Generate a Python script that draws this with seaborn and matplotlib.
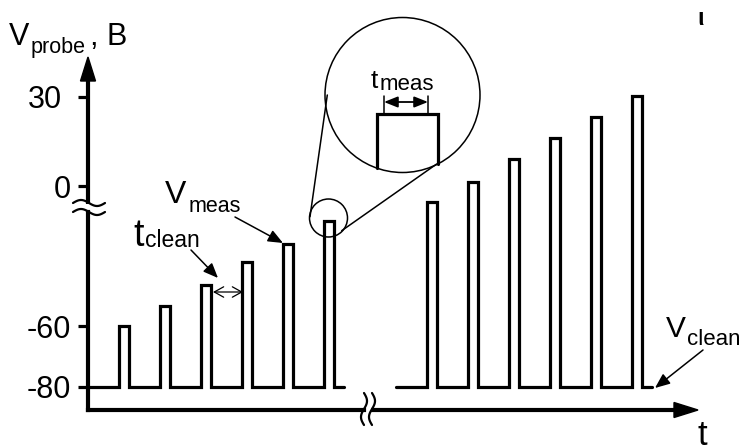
import numpy as np
import pandas as pd
import matplotlib
matplotlib.use("Agg")
import matplotlib.pyplot as plt
import seaborn as sns
from matplotlib.patches import Circle, Polygon
from matplotlib.transforms import ScaledTranslation

# ---------------- data ----------------
V_clean = -80.0                                   # cleaning level, V
V_meas_left = [-60, -53.4, -46.6, -39, -33, -25.6]  # measuring pulse levels (first train), V
V_meas_right = [-5.4, 1.3, 9.1, 16.2, 23.2, 30.3]   # measuring pulse levels (second train), V
t_meas = 10.5      # pulse duration (a.u.)
t_clean = 30.5     # cleaning interval (a.u.)
t_tail = 10        # tail after last pulse
train_start = [88, 396]   # start time of each train (a.u.)
y_ticks = [-80, -60, 0, 30]
y_ticklabels = ["-80", "-60", "0", "30"]

# ---------------- broken y scale ----------------
def fwd(v):
    v = np.asarray(v, dtype=float)
    lo = 3.05 * (v + 80)
    hi = 201 + 2.97 * v
    mid = 179.95 + (v + 21) * (0.25 / 14)
    return np.where(v <= -21, lo, np.where(v >= -7, hi, mid))

def inv(u):
    u = np.asarray(u, dtype=float)
    lo = u / 3.05 - 80
    hi = (u - 201) / 2.97
    mid = -21 + (u - 179.95) * (14 / 0.25)
    return np.where(u <= 179.95, lo, np.where(u >= 180.2, hi, mid))

# ---------------- waveform ----------------
rows = []
for seg, (t0, levels) in enumerate(zip(train_start, [V_meas_left, V_meas_right])):
    t = t0
    rows.append((seg, t, V_clean))
    for lv in levels:
        t += t_clean
        rows += [(seg, t, V_clean), (seg, t, lv), (seg, t + t_meas, lv), (seg, t + t_meas, V_clean)]
        t += t_meas
    rows.append((seg, t + t_tail, V_clean))
df = pd.DataFrame(rows, columns=["train", "t", "V"])

sns.set_theme(style="white")
plt.rcParams["font.family"] = ["Liberation Sans", "DejaVu Sans"]

W, H = 746, 447
fig = plt.figure(figsize=(W / 100, H / 100), dpi=100)
fig.patch.set_facecolor("white")

ax = fig.add_axes([0, 0, 1, 1])
ax.set_yscale("function", functions=(fwd, inv))
ax.set_xlim(0, W)
ax.set_ylim(float(inv(-60)), float(inv(387)))
sns.lineplot(data=df, x="t", y="V", units="train", estimator=None, sort=False,
             color="black", lw=2.3, ax=ax, solid_joinstyle="miter", legend=False)
for s in ax.spines.values():
    s.set_visible(False)
ax.spines["left"].set_position(("data", 88))
ax.set_xticks([])
ax.set_yticks(y_ticks)
ax.set_yticklabels(y_ticklabels)
ax.yaxis.set_minor_locator(matplotlib.ticker.NullLocator())
ax.tick_params(axis="y", direction="out", length=7.5, width=2.3, labelsize=22,
               pad=4.5, color="black", labelcolor="black", left=True)
for lab in ax.get_yticklabels():
    if lab.get_text() == "30":
        lab.set_transform(lab.get_transform() + ScaledTranslation(-0.09, 0, fig.dpi_scale_trans))
ax.set_xlabel("")
ax.set_ylabel("")
ax.patch.set_visible(False)

# ---------------- overlay (pixel coords) ----------------
ov = fig.add_axes([0, 0, 1, 1], zorder=5)
ov.set_xlim(0, W)
ov.set_ylim(H, 0)
ov.axis("off")
ov.patch.set_visible(False)

K = "black"
alw = 3.0
# y axis with break
ov.plot([88, 88], [410, 211.5], color=K, lw=alw, solid_capstyle="projecting")
ov.plot([88, 88], [204, 76], color=K, lw=alw, solid_capstyle="butt")
ov.add_patch(Polygon([[88, 57], [80.5, 81], [95.5, 81]], closed=True, color=K))
# x axis with break
ov.plot([88, 364], [410, 410], color=K, lw=alw, solid_capstyle="projecting")
ov.plot([371, 678], [410, 410], color=K, lw=alw, solid_capstyle="butt")
ov.add_patch(Polygon([[698, 410], [674, 402.5], [674, 417.5]], closed=True, color=K))

tt = np.linspace(0, 1, 60)
for yc in (203, 212):
    ov.plot(73 + 32 * tt, yc - 3 * np.sin(2 * np.pi * tt), color=K, lw=1.6)
for xc in (364, 372):
    ov.plot(xc + 3 * np.sin(2 * np.pi * tt), 393 + 32 * tt, color=K, lw=1.6)

# magnifier
ov.add_patch(Circle((328.5, 218), 19, fill=False, ec=K, lw=1.1))
ov.add_patch(Circle((402.5, 95), 77.5, fill=False, ec=K, lw=1.1))
ov.plot([310, 327.3], [216.7, 95], color=K, lw=1.1)
ov.plot([341.7, 436.7], [230.7, 164], color=K, lw=1.1)
ov.plot([376.5, 376.5, 438, 438], [168, 114, 114, 164], color=K, lw=2.3,
        solid_joinstyle="miter")
ov.plot([384, 384], [96, 114], color=K, lw=1.1)
ov.plot([428, 428], [96, 114], color=K, lw=1.1)
ov.annotate("", xy=(428, 102), xytext=(384, 102),
            arrowprops=dict(arrowstyle="<|-|>,head_length=0.55,head_width=0.22",
                            mutation_scale=15, color=K, lw=1.3, shrinkA=0, shrinkB=0))

# tclean double arrow
ov.annotate("", xy=(243, 292), xytext=(213, 292),
            arrowprops=dict(arrowstyle="<->,head_length=0.45,head_width=0.25",
                            mutation_scale=15, color=K, lw=0.9, shrinkA=0, shrinkB=0))

def pointer(x0, y0, x1, y1):
    ov.annotate("", xy=(x1, y1), xytext=(x0, y0),
                arrowprops=dict(arrowstyle="-|>,head_length=0.6,head_width=0.25",
                                mutation_scale=15, color=K, lw=1.1, shrinkA=0, shrinkB=0))

pointer(235, 217, 283, 243)
pointer(191, 250, 218, 278)
pointer(703, 350, 655, 388)

def txt(x, y, s, size, **kw):
    ov.text(x, y, s, fontsize=size, ha=kw.pop("ha", "left"), va=kw.pop("va", "baseline"),
            color=K, **kw)

txt(9, 45, "V", 22)
txt(31, 53, "probe", 15.5)
txt(90, 45, ", B", 22)

txt(165, 203, "V", 23)
txt(189, 212, "meas", 15.5)

txt(133, 246, "t", 27)
txt(145, 247, "clean", 16.5)

txt(666, 337, "V", 21.5)
txt(687, 345, "clean", 16)

txt(371, 88, "t", 19)
txt(380, 90, "meas", 16)

txt(698, 445, "t", 25)
txt(697, 25, "ι", 17, fontweight="bold")

fig.savefig("out.png", dpi=100, facecolor="white")
